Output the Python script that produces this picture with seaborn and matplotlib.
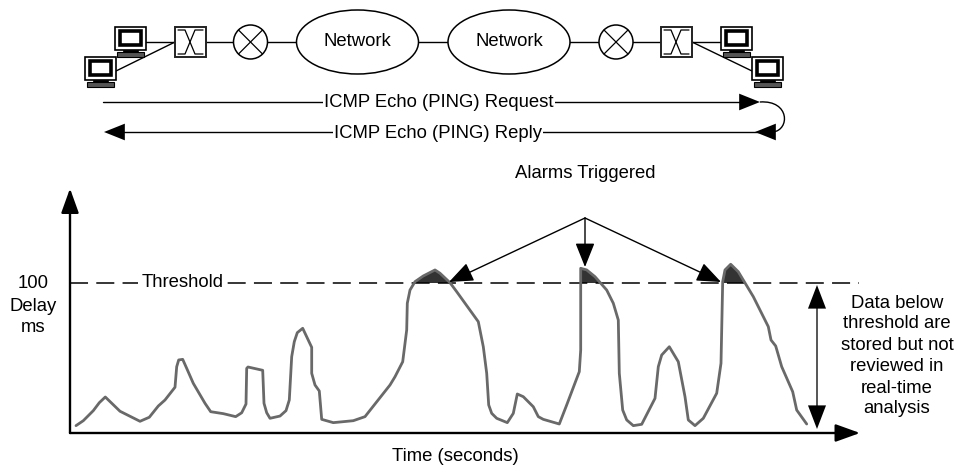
import numpy as np
import pandas as pd
import matplotlib
matplotlib.use("Agg")
import matplotlib.pyplot as plt
import seaborn as sns
from matplotlib.patches import Ellipse, Circle, Rectangle, PathPatch
from matplotlib.path import Path

# delay trace
time_s = [6, 13.3, 23.3, 29.3, 35.3, 50, 70, 79.3, 88.3, 95, 105, 106.7, 108.7, 112.7, 116.7, 123.3, 135, 140.7,
          153.3, 165.7, 171.7, 176, 176.7, 178, 192.7, 194, 196.7, 200, 210, 216, 219.3, 221.7, 224.3, 227.3,
          232.7, 241.7, 241.7, 245, 249.3, 251.7, 263.3, 283.3, 295, 320, 325, 332.7, 336.7, 337.3, 340, 345,
          353.3, 365, 370, 380, 386.7, 408.3, 413.3, 416.7, 418.7, 421.7, 426.7, 437.3, 443.3, 447.3, 453.3,
          463.3, 468.3, 473.3, 489.3, 496.7, 509.3, 510.7, 510.7, 516.7, 525, 536.7, 543.3, 548.3, 549.3, 552.7,
          556.7, 563.3, 571.7, 585, 588.3, 591.7, 599.3, 608.3, 615, 618.3, 625, 633.3, 646.7, 651, 652.7, 655,
          660.7, 668.3, 683.3, 698.3, 701, 705.7, 711.7, 722.7, 726.7, 736.7]
delay_ms = [4.9, 8.2, 14.9, 20.2, 24, 14.5, 7.8, 10.5, 18, 22, 30.5, 44.2, 48.7, 49.1, 43.1, 33.1, 19.8, 14.2,
            12.9, 10.9, 13.5, 19.3, 43.1, 44, 41.8, 19.8, 13.5, 9.8, 11.3, 14.9, 22, 50.9, 60.9, 66.9,
            69.8, 57.1, 39.8, 32, 28, 9.1, 6.9, 8.2, 10.9, 32, 37.5, 47.5, 68.7, 86.5, 95.3, 100.9,
            104.7, 108.7, 106.5, 100.2, 94.2, 74.2, 57.5, 39.8, 18.7, 13.1, 9.8, 6.9, 13.1, 26, 24.2,
            17.5, 10.9, 9.1, 6, 18.7, 40.9, 55.3, 109.8, 108.7, 104.2, 95.3, 86.5, 75.3, 39.8, 15.3,
            8.7, 4.9, 5.8, 23.1, 44.2, 52, 57.5, 47.5, 24.2, 8.7, 4.9, 9.8, 26.5, 46.5, 100.9, 108.7,
            112.5, 107.5, 90.9, 70.9, 62, 58, 44.2, 27.5, 15.3, 6]
threshold = 100
alarm_labels = ["Alarms Triggered"]
note_lines = ["Data below", "threshold are", "stored but not", "reviewed in", "real-time", "analysis"]
note_y = [303, 323, 345, 366, 388, 408]

sns.set_theme(style="white")
plt.rcParams["font.family"] = ["Liberation Sans", "DejaVu Sans"]
FS = 13.3

W, H = 957, 465
fig = plt.figure(figsize=(W / 100, H / 100), dpi=100, facecolor="white")

# overlay in pixel coords for the network sketch and the notes
top = fig.add_axes([0, 0, 1, 1], zorder=3)
top.set_xlim(0, W)
top.set_ylim(H, 0)
top.axis("off")
top.patch.set_alpha(0)

# chart axes, 1 s = 1 px and 100 ms = 150 px
ax = fig.add_axes([70 / W, 1 - 433 / H, 790 / W, 243 / H], zorder=2)
ax.set_xlim(0, 790)
ax.set_ylim(0, 162)
ax.axis("off")

df = pd.DataFrame({"time": time_s, "delay": delay_ms})
t = df["time"].to_numpy()
d = df["delay"].to_numpy()
ax.fill_between(t, threshold, d, where=d >= threshold, interpolate=True, color="#333333", lw=0, zorder=2)
sns.lineplot(data=df, x="time", y="delay", sort=False, estimator=None, color="#696969", lw=2.0, ax=ax, zorder=3)
ax.plot([0, 789], [threshold, threshold], color="black", lw=1.1, ls=(0, (11.8, 5.4)), zorder=2.5, clip_on=False)


def arrow(a, p0, p1, color="black", lw=1.0, hl=15, hw=6):
    style = f"-|>,head_length={hl},head_width={hw}"
    a.annotate("", xy=p1, xytext=p0, zorder=4, annotation_clip=False,
               arrowprops=dict(arrowstyle=style, mutation_scale=1, color=color, lw=lw, shrinkA=0, shrinkB=0))


# axes with arrow heads
arrow(ax, (0, 0), (0, 163), lw=1.7, hl=15, hw=5.4)
arrow(ax, (0, 0), (790, 0), lw=1.7, hl=15, hw=5.4)

# alarm arrows
arrow(top, (585, 218), (449, 282))
arrow(top, (585, 218), (585, 267))
arrow(top, (585, 218), (721, 282))
top.text(585, 173, alarm_labels[0], ha="center", va="center", fontsize=FS, color="black")

# span arrow
top.plot([817, 817], [295, 420], color="#555555", lw=1.4)
arrow(top, (817, 320), (817, 285), lw=0, hl=17, hw=6.5)
arrow(top, (817, 390), (817, 429), lw=0, hl=17, hw=6.5)

top.text(141.5, 282, "Threshold", ha="left", va="center", fontsize=FS, color="black", zorder=5,
         bbox=dict(facecolor="white", edgecolor="none", pad=2.5))
for line, y in zip(note_lines, note_y):
    top.text(897, y, line, ha="center", va="center", fontsize=FS, color="black")
top.text(33, 283, "100", ha="center", va="center", fontsize=FS, color="black")
top.text(33, 306, "Delay", ha="center", va="center", fontsize=FS, color="black")
top.text(33, 327, "ms", ha="center", va="center", fontsize=FS, color="black")
top.text(455, 456, "Time (seconds)", ha="center", va="center", fontsize=FS, color="black")


def computer(x, y):
    top.add_patch(Rectangle((x, y), 31, 23, fc="white", ec="black", lw=1.2))
    top.add_patch(Rectangle((x + 5, y + 4.5), 21, 14, fc="white", ec="black", lw=2.6))
    top.add_patch(Rectangle((x + 8, y + 23), 15, 2, fc="black", ec="black", lw=0.5))
    top.add_patch(Rectangle((x + 2, y + 25), 27, 5, fc="#555555", ec="black", lw=0.8))


def switch(x):
    top.add_patch(Rectangle((x, 27), 31, 30, fc="white", ec="#222222", lw=1.4))
    top.plot([x + 3, x + 10, x + 20, x + 28], [30, 30, 54, 54], color="black", lw=0.9)
    top.plot([x + 3, x + 10, x + 20, x + 28], [54, 54, 30, 30], color="black", lw=0.9)


def mux(cx):
    top.add_patch(Circle((cx, 42), 17, fc="white", ec="black", lw=1.1, zorder=2))
    off = 12
    top.plot([cx - off, cx + off], [42 - off, 42 + off], color="black", lw=0.9, zorder=3)
    top.plot([cx - off, cx + off], [42 + off, 42 - off], color="black", lw=0.9, zorder=3)


# links
top.plot([146, 175], [42, 42], color="black", lw=1, zorder=1)
top.plot([116, 175], [71, 42], color="black", lw=1, zorder=1)
top.plot([206, 721], [42, 42], color="black", lw=1, zorder=1)
top.plot([692, 752], [42, 71], color="black", lw=1, zorder=1)

computer(115, 27)
computer(85, 57)
computer(721, 27)
computer(752, 57)
switch(175)
switch(661)
mux(250.5)
mux(616)
for cx in (357.5, 509):
    top.add_patch(Ellipse((cx, 42), 122, 64, fc="white", ec="black", lw=1.1, zorder=2))
    top.text(cx, 42, "Network", ha="center", va="center", fontsize=FS, color="black", zorder=3)

# ping request and reply
top.plot([103, 745], [102, 102], color="black", lw=1, zorder=1)
top.plot([120, 760], [132, 132], color="black", lw=1, zorder=1)
arrow(top, (745, 102), (760, 102), lw=0, hl=15, hw=6)
arrow(top, (770, 132), (755, 132), lw=0, hl=15, hw=6)
arrow(top, (120, 132), (104, 132), lw=0, hl=15, hw=6)
curve = Path([(760, 102), (790, 100), (790, 130), (773, 132)],
             [Path.MOVETO, Path.CURVE4, Path.CURVE4, Path.CURVE4])
top.add_patch(PathPatch(curve, fc="none", ec="black", lw=1))
top.text(439, 102, "ICMP Echo (PING) Request", ha="center", va="center", fontsize=FS, color="black",
         bbox=dict(facecolor="white", edgecolor="none", pad=1))
top.text(438, 133, "ICMP Echo (PING) Reply", ha="center", va="center", fontsize=FS, color="black",
         bbox=dict(facecolor="white", edgecolor="none", pad=1))

fig.savefig("out.png", dpi=100)
